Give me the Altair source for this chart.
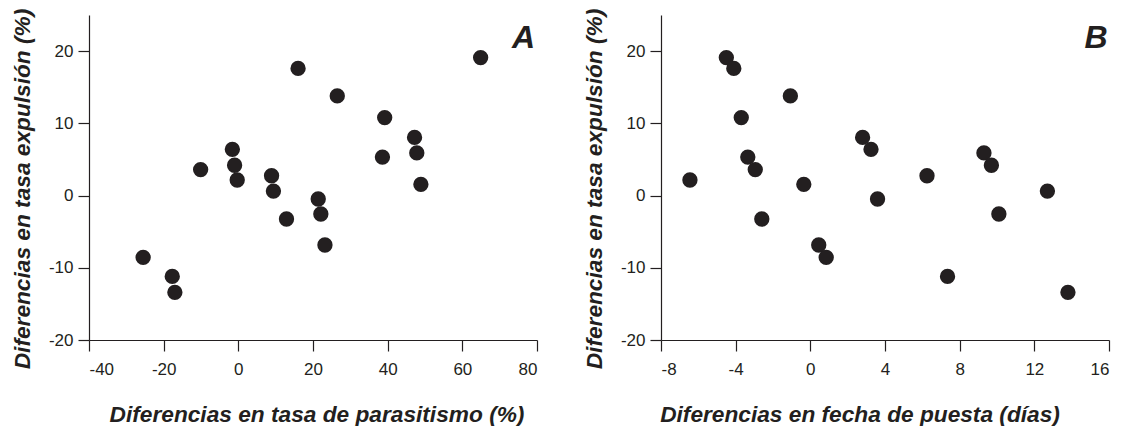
import altair as alt
import pandas as pd

# Data
y_expulsion = [19.1, 17.6, 13.8, 10.8, 8.05, 6.4, 5.9, 5.33, 4.2, 3.6, 2.74,
               2.15, 1.55, 0.62, -0.48, -2.55, -3.25, -6.85, -8.56, -11.2, -13.4]
x_parasitismo = [64.9, 16.0, 26.5, 39.2, 47.2, -1.6, 47.8, 38.6, -1.0, -10.1, 8.9,
                 -0.3, 48.9, 9.4, 21.4, 22.1, 12.9, 23.2, -25.5, -17.7, -17.0]
x_puesta = [-4.5, -4.1, -1.07, -3.7, 2.8, 3.25, 9.3, -3.35, 9.7, -2.95, 6.25,
            -6.45, -0.35, 12.7, 3.6, 10.1, -2.6, 0.45, 0.85, 7.35, 13.8]

ticks_a = [-40, -20, 0, 20, 40, 60, 80]
ticks_b = [-8, -4, 0, 4, 8, 12, 16]
ticks_y = [-20, -10, 0, 10, 20]

panel_labels = ["A", "B"]
label_x = [76.4, 15.3]
label_y = [20.4, 20.4]

INK = "#231f20"
FONT = "Liberation Sans"

df_a = pd.DataFrame({"x": x_parasitismo, "y": y_expulsion})
df_b = pd.DataFrame({"x": x_puesta, "y": y_expulsion})

y_title = "Diferencias en tasa expulsión (%)"
LABEL_EXPR = "datum.value + ''"


def panel(df, xdom, xticks, xtitle, title_x, lab, lx, ly):
    yscale = alt.Scale(domain=[-20, 25], nice=False, zero=False)
    xscale = alt.Scale(domain=xdom, nice=False, zero=False)
    xaxis = alt.Axis(values=xticks, title=xtitle, titlePadding=26,
                     titleX=title_x, labelPadding=10, labelExpr=LABEL_EXPR)
    yaxis = alt.Axis(values=ticks_y, title=y_title, titlePadding=14,
                     titleY=173.5, labelExpr=LABEL_EXPR)
    pts = alt.Chart(df).mark_circle(size=235, color=INK, opacity=1).encode(
        x=alt.X("x:Q", scale=xscale, axis=xaxis),
        y=alt.Y("y:Q", scale=yscale, axis=yaxis),
    )
    ldf = pd.DataFrame({"x": [lx], "y": [ly], "t": [lab]})
    txt = alt.Chart(ldf).mark_text(
        font=FONT, fontSize=32, fontWeight="bold", fontStyle="italic",
        color=INK, align="center", baseline="alphabetic"
    ).encode(
        x=alt.X("x:Q", scale=xscale),
        y=alt.Y("y:Q", scale=yscale),
        text="t:N",
    )
    return alt.layer(pts, txt).properties(width=448, height=325)


pa = panel(df_a, [-40, 80], ticks_a, "Diferencias en tasa de parasitismo (%)", 227.5,
           panel_labels[0], label_x[0], label_y[0])
pb = panel(df_b, [-8, 16], ticks_b, "Diferencias en fecha de puesta (días)", 198.5,
           panel_labels[1], label_x[1], label_y[1])

chart = alt.hconcat(pa, pb, spacing=45).properties(
    padding={"left": 3, "top": 0, "right": 5, "bottom": 0}
).configure_view(stroke=None).configure_axis(
    grid=False,
    domainColor=INK, tickColor=INK, labelColor=INK, titleColor=INK,
    domainWidth=1.2, tickWidth=1.2, tickSize=11, labelPadding=5,
    labelFont=FONT, labelFontSize=17, labelFontWeight="normal",
    titleFont=FONT, titleFontSize=22.7, titleFontWeight="bold", titleFontStyle="italic",
).configure_axisX(labelAngle=0)

chart.save("out.html", embed_options={"renderer": "svg", "actions": False})
